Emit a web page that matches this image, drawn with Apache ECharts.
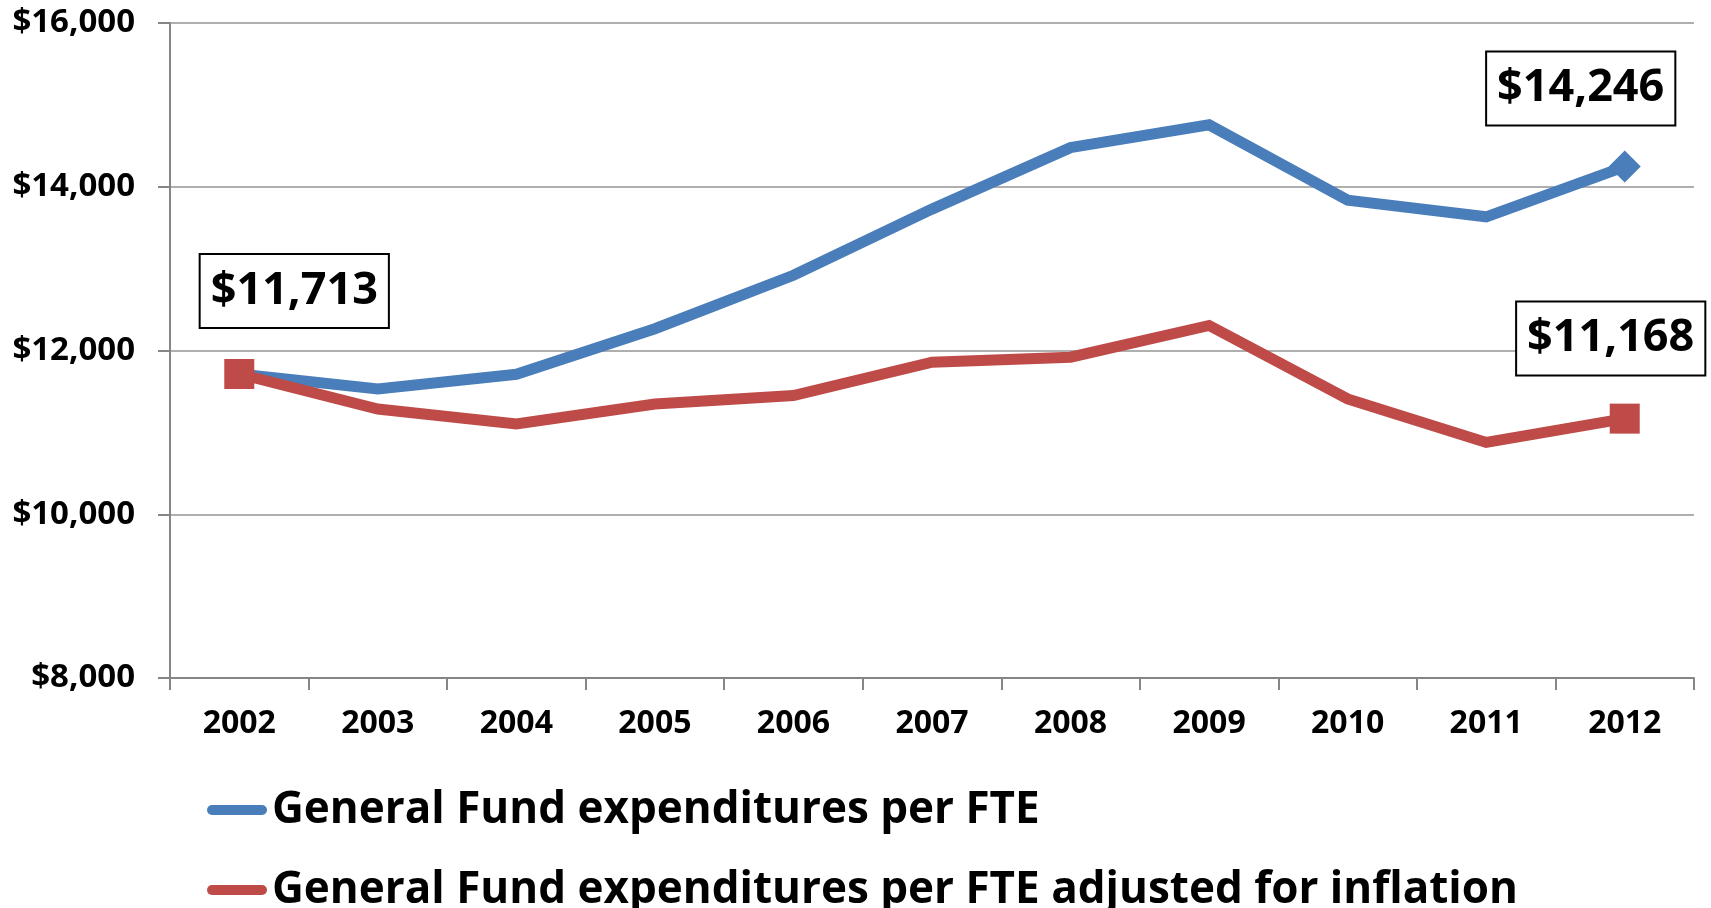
<!DOCTYPE html>
<html>
<head>
<meta charset="utf-8">
<script src="https://cdn.jsdelivr.net/npm/echarts@6/dist/echarts.min.js"></script>
<style>
  html, body { margin: 0; padding: 0; background: #ffffff; }
  #chart { width: 1711px; height: 908px; }
</style>
</head>
<body>
<div id="chart"></div>
<script>
// fiscal years
var years = ["2002", "2003", "2004", "2005", "2006", "2007", "2008", "2009", "2010", "2011", "2012"];
// General Fund expenditures per FTE (nominal)
var perFte = [11713, 11530, 11710, 12266, 12919, 13727, 14478, 14756, 13837, 13633, 14246];
// same, adjusted for inflation
var perFteAdjusted = [11713, 11286, 11102, 11347, 11449, 11857, 11918, 12306, 11408, 10877, 11168];
var seriesNames = ["General Fund expenditures per FTE", "General Fund expenditures per FTE adjusted for inflation"];
// y axis
var yMin = 8000, yMax = 16000, yStep = 2000;

var font = "'Open Sans', 'Noto Sans', sans-serif";
var blue = "#4a7ebb";
var red = "#be4b48";

function money(v) {
  return "$" + v.toLocaleString("en-US");
}

function boxLabel(offset) {
  return {
    show: true,
    position: "inside",
    offset: offset,
    formatter: function (p) { return money(p.value); },
    color: "#000",
    fontFamily: font,
    fontWeight: "bold",
    fontSize: 45,
    lineHeight: 56,
    backgroundColor: "#fff",
    borderColor: "#000",
    borderWidth: 2,
    padding: [9, 10, 7, 10]
  };
}

// build data items: only end points carry markers / boxed labels
var blueData = perFte.map(function (v, i) {
  if (i === perFte.length - 1) {
    return { value: v, symbol: "diamond", symbolSize: [32, 32], label: boxLabel([-44, -78]) };
  }
  return { value: v, symbolSize: 0 };
});
var redData = perFteAdjusted.map(function (v, i) {
  if (i === 0) {
    return { value: v, symbol: "rect", symbolSize: 30, label: boxLabel([55, -83]) };
  }
  if (i === perFteAdjusted.length - 1) {
    return { value: v, symbol: "rect", symbolSize: 30, label: boxLabel([-14, -80]) };
  }
  return { value: v, symbolSize: 0 };
});

var capsule = "path://M5,0 L55,0 A5,5 0 0 1 55,10 L5,10 A5,5 0 0 1 5,0 Z";
var legendText = {
  color: "#000",
  fontFamily: font,
  fontWeight: "bold",
  fontSize: 44,
  lineHeight: 50
};

var myChart = echarts.init(document.getElementById("chart"));
myChart.setOption({
  animation: false,
  grid: {
    left: 170,
    right: 17,
    top: 23,
    bottom: 230
  },
  legend: [
    {
      left: 202,
      top: 780,
      itemWidth: 60,
      itemHeight: 11,
      data: [{ name: seriesNames[0], icon: capsule, itemStyle: { color: blue } }],
      textStyle: legendText
    },
    {
      left: 202,
      top: 860,
      itemWidth: 60,
      itemHeight: 11,
      data: [{ name: seriesNames[1], icon: capsule, itemStyle: { color: red } }],
      textStyle: legendText
    }
  ],
  xAxis: {
    type: "category",
    data: years,
    boundaryGap: true,
    axisLine: { lineStyle: { color: "#868686", width: 2 } },
    axisTick: { show: true, length: 12, lineStyle: { color: "#868686", width: 2 } },
    axisLabel: {
      margin: 30,
      color: "#000",
      fontFamily: font,
      fontWeight: "bold",
      fontSize: 32
    }
  },
  yAxis: {
    type: "value",
    min: yMin,
    max: yMax,
    interval: yStep,
    axisLine: { show: true, lineStyle: { color: "#868686", width: 2 } },
    axisTick: { show: true, length: 12, lineStyle: { color: "#868686", width: 2 } },
    splitLine: { show: true, lineStyle: { color: "#959595", width: 1.5 } },
    axisLabel: {
      margin: 35,
      color: "#000",
      fontFamily: font,
      fontWeight: "bold",
      fontSize: 33,
      formatter: function (v) { return money(v); }
    }
  },
  series: [
    {
      name: seriesNames[0],
      type: "line",
      data: blueData,
      symbol: "rect",
      lineStyle: { color: blue, width: 11, join: "miter" },
      itemStyle: { color: blue },
      z: 2
    },
    {
      name: seriesNames[1],
      type: "line",
      data: redData,
      symbol: "rect",
      lineStyle: { color: red, width: 11, join: "miter" },
      itemStyle: { color: red },
      z: 3
    }
  ]
});
</script>
</body>
</html>
